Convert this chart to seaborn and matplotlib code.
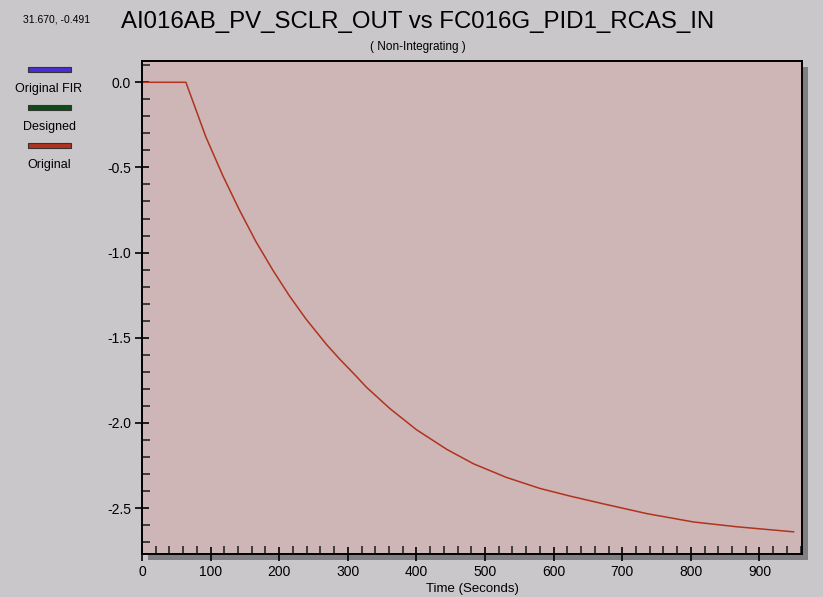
import numpy as np
import pandas as pd
import matplotlib
matplotlib.use("Agg")
import matplotlib.pyplot as plt
from matplotlib.patches import Rectangle
from matplotlib.ticker import MultipleLocator, FormatStrFormatter
import seaborn as sns

# --- Daten ---
time_s = [0, 64, 93, 118, 142, 166, 191, 215, 239, 269, 288, 312, 327, 361,
          400, 444, 483, 531, 580, 624, 672, 736, 804, 867, 950]
original = [0.0, 0.0, -0.32, -0.55, -0.75, -0.935, -1.105, -1.255, -1.39, -1.54,
            -1.625, -1.725, -1.79, -1.915, -2.04, -2.155, -2.24, -2.32, -2.385,
            -2.43, -2.475, -2.533, -2.582, -2.61, -2.64]
legend_names = ["Original FIR", "Designed", "Original"]
legend_colors = ["#4a2fd0", "#0f4d16", "#b0331f"]
title = "AI016AB_PV_SCLR_OUT vs FC016G_PID1_RCAS_IN"
subtitle = "( Non-Integrating )"
cursor_text = "31.670, -0.491"

df = pd.DataFrame({"t": time_s, "y": original})

sns.set_style("ticks")
plt.rcParams["font.family"] = ["Liberation Sans", "DejaVu Sans"]
plt.rcParams["text.color"] = "black"
plt.rcParams["axes.labelcolor"] = "black"

W, H = 823, 597
fig = plt.figure(figsize=(W / 100, H / 100), dpi=100)
fig.patch.set_facecolor("#c9c7ca")

ax_l, ax_r, ax_t, ax_b = 142, 802, 61, 554
ax = fig.add_axes([ax_l / W, 1 - ax_b / H, (ax_r - ax_l) / W, (ax_b - ax_t) / H])
ax.set_zorder(2)

# Schatten hinter dem Plotbereich
sh = 6
fig.patches.append(Rectangle(((ax_l + sh) / W, 1 - (ax_b + sh) / H),
                             (ax_r - ax_l) / W, (ax_b - ax_t) / H,
                             transform=fig.transFigure, facecolor="#807f82",
                             edgecolor="none", zorder=0))

ax.set_facecolor("#cdb6b5")
sns.lineplot(data=df, x="t", y="y", ax=ax, color="#b0331f", linewidth=1.1)

ax.set_xlim(0, 962)
ax.set_ylim(-2.77, 0.125)
ax.xaxis.set_major_locator(MultipleLocator(100))
ax.xaxis.set_minor_locator(MultipleLocator(20))
ax.yaxis.set_major_locator(MultipleLocator(0.5))
ax.yaxis.set_minor_locator(MultipleLocator(0.1))
ax.yaxis.set_major_formatter(FormatStrFormatter("%.1f"))
ax.tick_params(which="major", direction="inout", length=10, width=1.2,
               labelsize=10, colors="black", pad=3)
ax.tick_params(which="minor", direction="in", length=6, width=1.2)
for s in ax.spines.values():
    s.set_linewidth(1.4)
    s.set_color("black")
ax.set_xlabel("Time (Seconds)", fontsize=9.5, labelpad=3)
ax.set_ylabel("")

fig.text(418 / W, 1 - 22 / H, title, fontsize=17.3, ha="center", va="center")
fig.text(418 / W, 1 - 47 / H, subtitle, fontsize=8.5, ha="center", va="center")
fig.text(57 / W, 1 - 20 / H, cursor_text, fontsize=7.5, ha="center", va="center")

# Legende links
for i, (name, col) in enumerate(zip(legend_names, legend_colors)):
    yl = 69 + i * 38
    fig.patches.append(Rectangle((28 / W, 1 - (yl + 2.5) / H), 43 / W, 5 / H,
                                 transform=fig.transFigure, facecolor=col,
                                 edgecolor="#333333", linewidth=0.8, zorder=3))
    fig.text(49 / W, 1 - (yl + 20) / H, name, fontsize=9, ha="center", va="center")

fig.savefig("out.png", dpi=100)
